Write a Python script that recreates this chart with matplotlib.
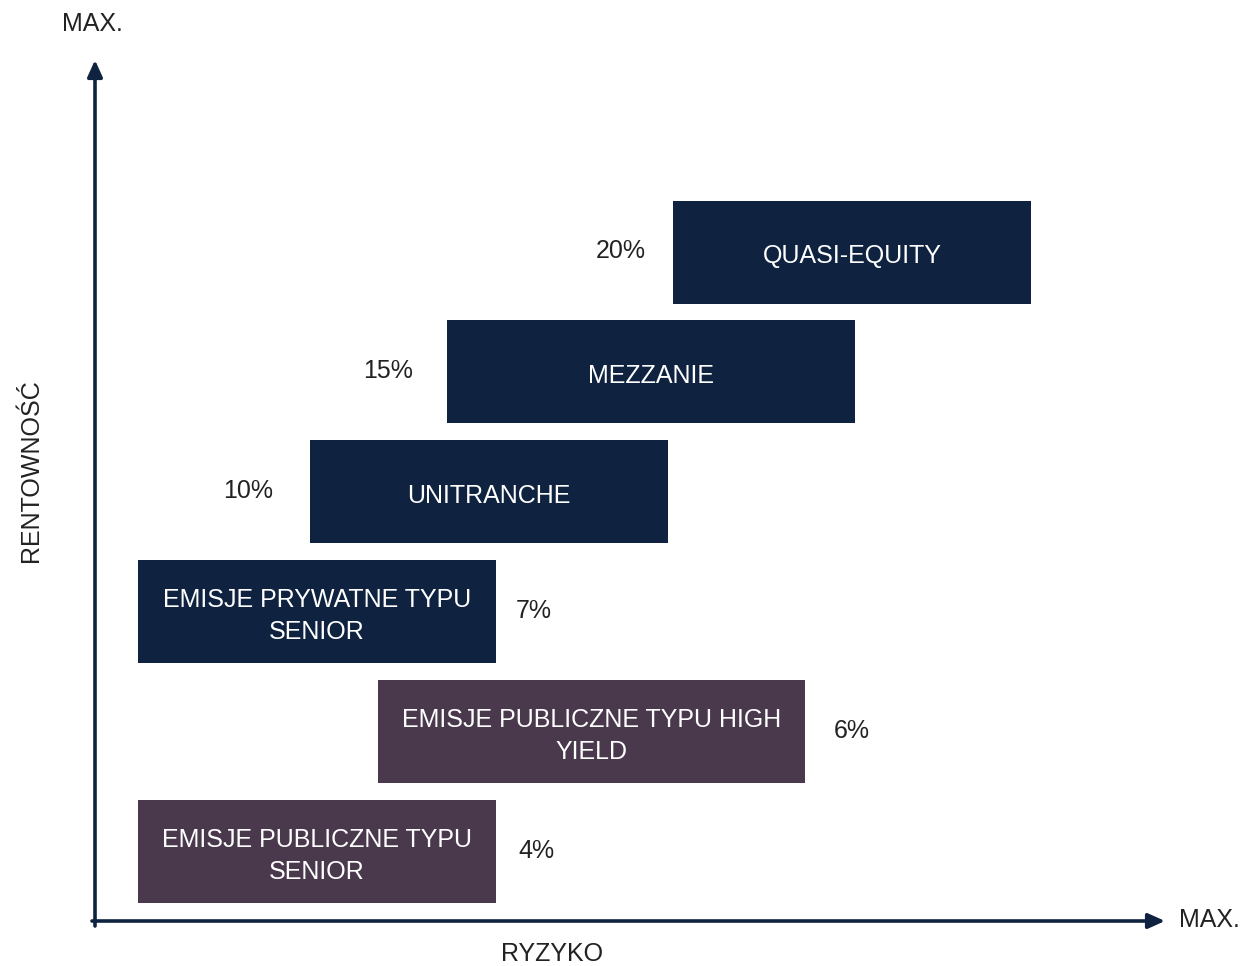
import matplotlib
matplotlib.use("Agg")
import matplotlib.pyplot as plt

# ---- data ----
categories = ["QUASI-EQUITY", "MEZZANIE", "UNITRANCHE",
              "EMISJE PRYWATNE TYPU\nSENIOR",
              "EMISJE PUBLICZNE TYPU HIGH\nYIELD",
              "EMISJE PUBLICZNE TYPU\nSENIOR"]
risk_start = [673, 447, 310, 138, 378, 138]
risk_end = [1031, 855, 668, 496, 805, 496]
returns = ["20%", "15%", "10%", "7%", "6%", "4%"]
label_side = ["left", "left", "left", "right", "right", "right"]
kinds = ["private", "private", "private", "private", "public", "public"]

# label gaps (style)
label_gap = [52, 59, 62, 38, 47, 40]

colors = {"private": "#0f2341", "public": "#4a394d"}
axis_color = "#0f2341"
FONT = ["Liberation Sans", "DejaVu Sans"]
plt.rcParams["font.family"] = FONT
FS = 18
WT = "normal"
TXT = "#222222"

W, H = 1243, 966
fig = plt.figure(figsize=(W / 100, H / 100), dpi=100)
ax = fig.add_axes([0, 0, 1, 1])
ax.set_xlim(0, W)
row0, rowstep = 252.0, 119.9
ax.set_ylim((H - row0) / rowstep, -row0 / rowstep)
ax.axis("off")

bar_h = 103 / rowstep
for i, (cat, s, e, r, side, k, g) in enumerate(zip(categories, risk_start, risk_end,
                                                    returns, label_side, kinds, label_gap)):
    ax.barh(i, e - s, left=s, height=bar_h, color=colors[k], edgecolor="none")
    ax.text((s + e) / 2, i + 0.035, cat, ha="center", va="center", color="white",
            fontsize=FS, fontweight=WT, linespacing=1.42)
    x = s - g if side == "left" else e + g
    ax.text(x, i - 0.005, r, ha="center", va="center", color=TXT,
            fontsize=FS, fontweight=WT)

def py(p):
    return (H - p) / H

ax.annotate("", xy=(95 / W, py(60)), xytext=(95 / W, py(926)),
            xycoords="figure fraction", textcoords="figure fraction",
            arrowprops=dict(arrowstyle="-|>,head_length=1.0,head_width=0.45",
                            color=axis_color, lw=2.6, shrinkA=0, shrinkB=0))
ax.annotate("", xy=(1165 / W, py(921)), xytext=(92 / W, py(921)),
            xycoords="figure fraction", textcoords="figure fraction",
            arrowprops=dict(arrowstyle="-|>,head_length=1.0,head_width=0.45",
                            color=axis_color, lw=2.6, shrinkA=0, shrinkB=0))

fig.text(92 / W, py(24), "MAX.", ha="center", va="center", fontsize=FS,
         fontweight=WT, color=TXT)
fig.text(1209 / W, py(920), "MAX.", ha="center", va="center", fontsize=FS,
         fontweight=WT, color=TXT)
fig.text(552 / W, py(954), "RYZYKO", ha="center", va="center", fontsize=FS,
         fontweight=WT, color=TXT)
fig.text(31 / W, py(471), "RENTOWNOŚĆ", ha="center", va="center", fontsize=FS,
         fontweight=WT, color=TXT, rotation=90)

fig.savefig("out.png", dpi=100)
